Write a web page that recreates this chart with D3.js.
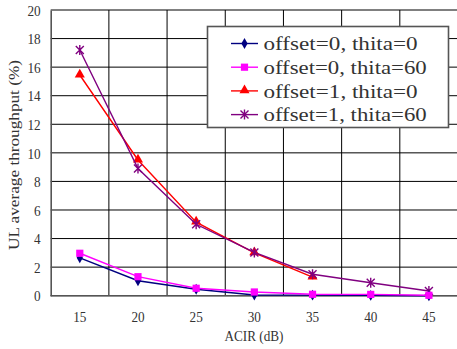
<!DOCTYPE html>
<html>
<head>
<meta charset="utf-8">
<script src="https://cdn.jsdelivr.net/npm/d3@7"></script>
<style>
  html, body { margin: 0; padding: 0; background: #fff; }
  svg { display: block; }
  text { font-family: "Liberation Serif", "DejaVu Serif", serif; fill: #333; }
</style>
</head>
<body>
<svg id="chart" width="457" height="349"></svg>
<script>
// ACIR values (dB) on the category axis
const acir = [15, 20, 25, 30, 35, 40, 45];
const yTicks = [0, 2, 4, 6, 8, 10, 12, 14, 16, 18, 20];

// UL average throughput (%) for each configuration
const off0Th0  = [2.65, 1.05, 0.45, 0.05, 0.04, 0.02, 0.0];
const off0Th60 = [2.97, 1.33, 0.52, 0.26, 0.1, 0.09, 0.03];
const off1Th0  = [15.45, 9.5, 5.15, 3.0, 1.3];
const off1Th60 = [17.2, 8.9, 5.0, 3.03, 1.5, 0.91, 0.33];

const seriesNames = ["offset=0, thita=0", "offset=0, thita=60", "offset=1, thita=0", "offset=1, thita=60"];
const seriesColors = ["#000080", "#ff00ff", "#ff0000", "#800080"];
const seriesMarkers = ["diamond", "square", "triangle", "asterisk"];
const seriesValues = [off0Th0, off0Th60, off1Th0, off1Th60];

const svg = d3.select("#chart");
const plot = { left: 50.7, right: 458, top: 10, bottom: 295.7 };

const x = d3.scaleBand().domain(acir).range([plot.left, plot.right]);
const y = d3.scaleLinear().domain([0, 20]).range([plot.bottom, plot.top]);

// grid lines
const grid = svg.append("g");
grid.selectAll("line.h").data(yTicks).join("line")
  .attr("x1", plot.left).attr("x2", plot.right)
  .attr("y1", d => y(d)).attr("y2", d => y(d))
  .attr("stroke", "#000").attr("stroke-width", 1);
const bounds = acir.slice(1).map(d => x(d));
grid.selectAll("line.v").data(bounds).join("line")
  .attr("x1", d => d).attr("x2", d => d)
  .attr("y1", plot.top).attr("y2", plot.bottom)
  .attr("stroke", "#000").attr("stroke-width", 1);

// axes
const yAxis = svg.append("g").attr("transform", `translate(${plot.left},0)`)
  .call(d3.axisLeft(y).tickValues(yTicks).tickSize(0).tickPadding(10));
const xAxis = svg.append("g").attr("transform", `translate(0,${plot.bottom})`)
  .call(d3.axisBottom(x).tickSize(0).tickPadding(16));
[yAxis, xAxis].forEach(a => {
  a.select(".domain").attr("stroke", "#555").attr("stroke-width", 1.6);
  a.selectAll("text")
    .attr("font-family", "Liberation Serif, serif")
    .attr("font-size", 15)
    .attr("fill", "#333")
    .attr("lengthAdjust", "spacingAndGlyphs")
    .attr("textLength", d => String(d).length * 6.6);
});
xAxis.select(".domain").attr("d", `M${plot.left},0H${plot.right}`);
yAxis.selectAll("text").attr("dy", "0.35em");
xAxis.selectAll("text").attr("dy", "0.72em");

// axis titles
svg.append("text")
  .attr("x", 254).attr("y", 341)
  .attr("text-anchor", "middle")
  .attr("font-size", 14)
  .attr("lengthAdjust", "spacingAndGlyphs").attr("textLength", 59)
  .text("ACIR (dB)");
svg.append("text")
  .attr("transform", "translate(19,155) rotate(-90)")
  .attr("text-anchor", "middle")
  .attr("font-size", 15)
  .attr("lengthAdjust", "spacingAndGlyphs").attr("textLength", 190)
  .text("UL average throughput (%)");

// marker drawing
function drawMarker(g, type, color, cx, cy) {
  if (type === "diamond") {
    g.append("path").attr("d", d3.symbol(d3.symbolDiamond, 34)())
      .attr("transform", `translate(${cx},${cy})`).attr("fill", color);
  } else if (type === "square") {
    g.append("rect").attr("x", cx - 3.6).attr("y", cy - 3.6)
      .attr("width", 7.2).attr("height", 7.2).attr("fill", color);
  } else if (type === "triangle") {
    g.append("path").attr("d", d3.symbol(d3.symbolTriangle, 44)())
      .attr("transform", `translate(${cx},${cy - 0.5})`).attr("fill", color);
  } else {
    const r = 4;
    g.append("path")
      .attr("d", `M${cx - r},${cy - r}L${cx + r},${cy + r}M${cx - r},${cy + r}L${cx + r},${cy - r}M${cx},${cy - r - 1}L${cx},${cy + r + 1}`)
      .attr("stroke", color).attr("stroke-width", 1.4).attr("fill", "none");
  }
}

// series lines and markers
const line = d3.line().x((d, i) => x(acir[i]) + x.bandwidth() / 2).y(d => y(d));
const drawOrder = [2, 3, 0, 1];
drawOrder.forEach(s => {
  const g = svg.append("g");
  g.append("path").datum(seriesValues[s]).attr("d", line)
    .attr("fill", "none").attr("stroke", seriesColors[s]).attr("stroke-width", 1.4);
  seriesValues[s].forEach((v, i) =>
    drawMarker(g, seriesMarkers[s], seriesColors[s], x(acir[i]) + x.bandwidth() / 2, y(v)));
});

// legend
const lg = svg.append("g");
lg.append("rect").attr("x", 207.5).attr("y", 26.5).attr("width", 241).attr("height", 101)
  .attr("fill", "#fff").attr("stroke", "#555").attr("stroke-width", 1.6);
seriesNames.forEach((name, s) => {
  const ry = 43.5 + s * 23.7;
  lg.append("line").attr("x1", 231).attr("x2", 258).attr("y1", ry).attr("y2", ry)
    .attr("stroke", seriesColors[s]).attr("stroke-width", 1.4);
  drawMarker(lg, seriesMarkers[s], seriesColors[s], 244.5, ry);
  lg.append("text").attr("x", 263.5).attr("y", ry).attr("dy", "0.36em")
    .attr("font-size", 19)
    .attr("lengthAdjust", "spacingAndGlyphs")
    .attr("textLength", name.length * 9.07)
    .text(name);
});
</script>
</body>
</html>
